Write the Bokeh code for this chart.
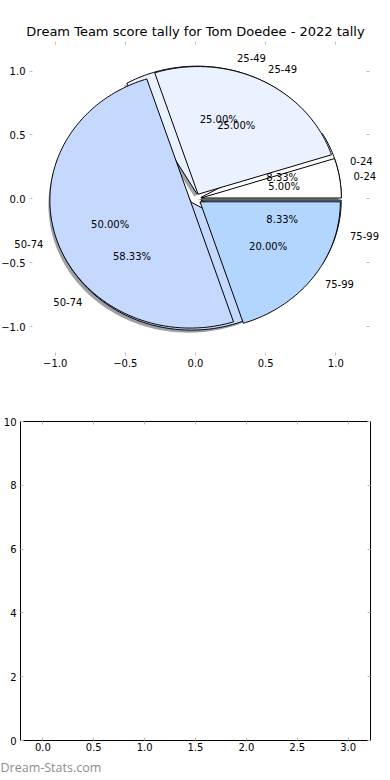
import numpy as np
from bokeh.plotting import figure
from bokeh.models import (Range1d, LinearAxis, FixedTicker, LabelSet, Title,
                          ColumnDataSource, CustomJSTickFormatter)
from bokeh.core.properties import value
from bokeh.embed import file_html
from bokeh.resources import INLINE

# ---------------- data ----------------
TITLE = "Dream Team score tally for Tom Doedee - 2022 tally"
categories = ["0-24", "25-49", "50-74", "75-99"]
shadow_pie_pct = [8.33, 25.00, 58.33, 8.33]     # lower pie (with shadow)
front_pie_pct = [5.00, 25.00, 50.00, 20.00]     # upper pie
slice_colors = ["#FFFFFF", "#EAF1FF", "#C5D9FF", "#B3D6FF"]
explode = [0.04, 0.04, 0.04, 0.04]

pie_ticks = [-1.0, -0.5, 0.0, 0.5, 1.0]
pie_tick_labels = ["\u22121.0", "\u22120.5", "0.0", "0.5", "1.0"]
lower_x_ticks = [0.0, 0.5, 1.0, 1.5, 2.0, 2.5, 3.0]
lower_x_labels = ["0.0", "0.5", "1.0", "1.5", "2.0", "2.5", "3.0"]
lower_y_ticks = [0, 2, 4, 6, 8, 10]
lower_y_labels = ["0", "2", "4", "6", "8", "10"]
WATERMARK = "Dream-Stats.com"

# ---------------- style / layout ----------------
FONT = "DejaVu Sans"
W, H1, H2 = 390, 390, 390
PX_X, PX_Y = 140.3, 127.7          # pie panel pixels per unit
CX, CY = 195.0, 198.3              # pie centre in pixels
PIE_TOP = 41                       # top of the pie panel's box
PIE_BOX_Y = 1.23                   # apparent box of the pie panel
PIE_LEFT_AXIS, PIE_RIGHT_AXIS = -1.183, 1.24


def pie_geometry(pcts, explode, label_dist=1.1, pct_dist=0.6):
    vals = np.asarray(pcts, float)
    frac = vals / vals.sum()
    bounds = np.concatenate([[0.0], np.cumsum(frac)]) * 2 * np.pi
    out = dict(xs=[], ys=[], lx=[], ly=[], px=[], py=[])
    for i in range(len(vals)):
        t0, t1 = bounds[i], bounds[i + 1]
        tm = 0.5 * (t0 + t1)
        ox, oy = explode[i] * np.cos(tm), explode[i] * np.sin(tm)
        th = np.linspace(t0, t1, max(int(np.degrees(t1 - t0)), 2) + 1)
        out["xs"].append(np.concatenate([[ox], ox + np.cos(th), [ox]]))
        out["ys"].append(np.concatenate([[oy], oy + np.sin(th), [oy]]))
        out["lx"].append(ox + label_dist * np.cos(tm))
        out["ly"].append(oy + label_dist * np.sin(tm))
        out["px"].append(ox + pct_dist * np.cos(tm))
        out["py"].append(oy + pct_dist * np.sin(tm))
    return out


def darker(hexcol, f=0.3):
    r, g, b = (int(hexcol[i:i + 2], 16) for i in (1, 3, 5))
    return "#%02x%02x%02x" % (int(r * f), int(g * f), int(b * f))


def label_formatter(ticks, labels):
    return CustomJSTickFormatter(
        args=dict(tick_values=list(ticks), tick_labels=list(labels)),
        code="const i = tick_values.findIndex(t => Math.abs(t - tick) < 1e-9);"
             "return i >= 0 ? tick_labels[i] : '';")


def blank_formatter():
    return CustomJSTickFormatter(code="return '';")


def make_axis(ticks, labels, standoff, loc_value=None):
    ax = LinearAxis(fixed_location=loc_value)
    ax.ticker = FixedTicker(ticks=list(ticks))
    ax.formatter = label_formatter(ticks, labels) if labels else blank_formatter()
    ax.axis_line_color = None
    ax.major_tick_in = 3
    ax.major_tick_out = 0
    ax.major_tick_line_color = "#bdbdbd"
    ax.major_tick_line_width = 1
    ax.minor_tick_line_color = None
    ax.major_label_text_font = FONT
    ax.major_label_text_font_size = "10px"
    ax.major_label_text_color = "#000000"
    ax.major_label_standoff = standoff
    return ax


# ---------------- top: the pie ----------------
p1 = figure(width=W, height=H1, output_backend="svg", toolbar_location=None,
            x_range=Range1d(-CX / PX_X, (W - CX) / PX_X),
            y_range=Range1d(-(H1 - CY) / PX_Y, (CY - PIE_TOP) / PX_Y),
            x_axis_location=None, y_axis_location=None,
            min_border_left=0, min_border_right=0,
            min_border_top=PIE_TOP, min_border_bottom=0)
p1.grid.visible = False
p1.outline_line_color = None
p1.background_fill_color = "white"
p1.border_fill_color = "white"
p1.title.text = TITLE
p1.title.align = "center"
p1.title.text_font = FONT
p1.title.text_font_size = "13px"
p1.title.text_font_style = "normal"
p1.title.text_color = "#000000"
p1.title.standoff = 6

p1.add_layout(make_axis(pie_ticks, pie_tick_labels, 3, -PIE_BOX_Y), "below")
p1.add_layout(make_axis(pie_ticks, None, 0, PIE_BOX_Y), "above")
p1.add_layout(make_axis(pie_ticks, pie_tick_labels, 4, PIE_LEFT_AXIS), "left")
p1.add_layout(make_axis(pie_ticks, None, 0, PIE_RIGHT_AXIS), "right")

geo_a = pie_geometry(shadow_pie_pct, explode)
geo_b = pie_geometry(front_pie_pct, explode)

# shadow of the lower pie
p1.patches(xs=[x - 0.02 for x in geo_a["xs"]], ys=[y - 0.02 for y in geo_a["ys"]],
           fill_color=[darker(c) for c in slice_colors], fill_alpha=0.5,
           line_color=None)
p1.patches(xs=geo_a["xs"], ys=geo_a["ys"], fill_color=slice_colors,
           line_color="black", line_width=1)
p1.patches(xs=geo_b["xs"], ys=geo_b["ys"], fill_color=slice_colors,
           line_color="black", line_width=1)


def add_texts(geo, pcts):
    right = [i for i in range(len(categories)) if geo["lx"][i] > 0]
    left = [i for i in range(len(categories)) if geo["lx"][i] <= 0]
    for idx, align in ((right, "left"), (left, "right")):
        src = ColumnDataSource(dict(x=[geo["lx"][i] for i in idx],
                                    y=[geo["ly"][i] for i in idx],
                                    t=[categories[i] for i in idx]))
        p1.add_layout(LabelSet(x="x", y="y", text="t", source=src,
                               text_align=align, text_baseline="middle",
                               text_font=value(FONT), text_font_size=value("10px"),
                               text_color="#000000"))
    src = ColumnDataSource(dict(x=geo["px"], y=geo["py"],
                                t=["%.2f%%" % v for v in pcts]))
    p1.add_layout(LabelSet(x="x", y="y", text="t", source=src,
                           text_align="center", text_baseline="middle",
                           text_font=value(FONT), text_font_size=value("10px"),
                           text_color="#000000"))


add_texts(geo_a, shadow_pie_pct)
add_texts(geo_b, front_pie_pct)

# ---------------- bottom: empty axes ----------------
X2 = (-0.22, 3.22)
Y2 = (0, 10)
p2 = figure(width=W, height=H2, output_backend="svg", toolbar_location=None,
            x_range=Range1d(*X2), y_range=Range1d(*Y2), x_axis_location=None,
            y_axis_location=None, min_border_left=20, min_border_right=20,
            min_border_top=31, min_border_bottom=40)
p2.grid.visible = False
p2.outline_line_color = "black"
p2.outline_line_width = 1
p2.background_fill_color = "white"
p2.border_fill_color = "white"

p2.add_layout(make_axis(lower_x_ticks, lower_x_labels, 2), "below")
p2.add_layout(make_axis(lower_x_ticks, None, 0), "above")
p2.add_layout(make_axis(lower_y_ticks, lower_y_labels, 4), "left")
p2.add_layout(make_axis(lower_y_ticks, None, 0), "right")

p2.add_layout(Title(text=WATERMARK, align="left", offset=-20, standoff=7,
                    text_font="Open Sans", text_font_size="12.5px",
                    text_font_style="normal", text_color="#8c8c8c"), "below")

open("out.html", "w").write(file_html([p1, p2], INLINE))
